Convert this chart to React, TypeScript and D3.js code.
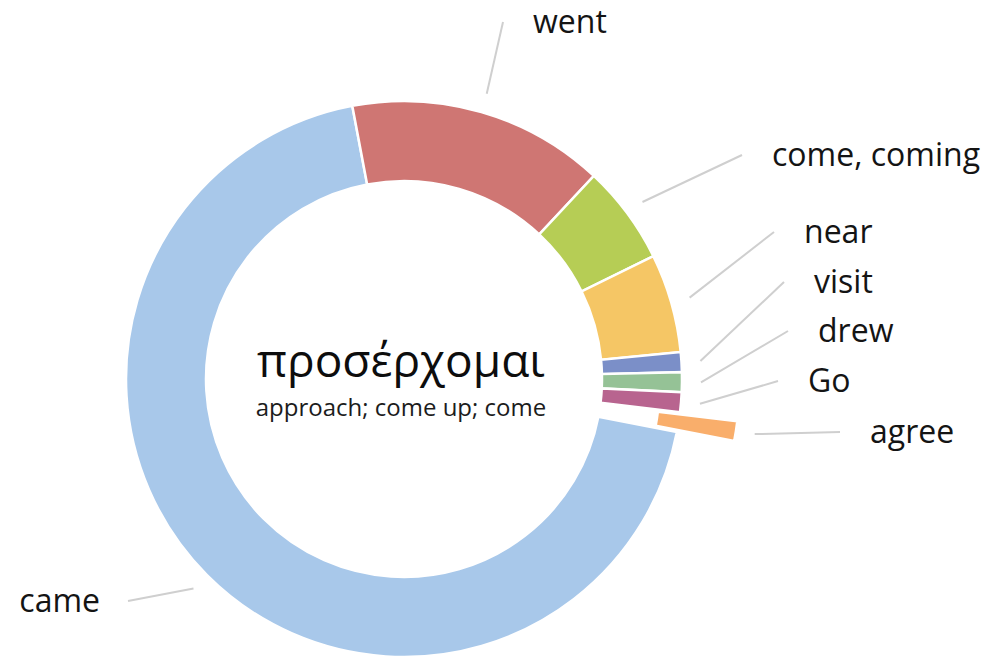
import React from 'react';
import * as d3 from 'd3';

// translations of προσέρχομαι and how often each occurs
const words = ['came', 'went', 'come, coming', 'near', 'visit', 'drew', 'Go', 'agree'];
const counts = [60, 13, 5, 5, 1, 1, 1, 1];
const colors = ['#a8c8ea', '#cf7673', '#b6cd55', '#f5c665', '#7b8fc8', '#95c296', '#b8648f', '#f9ae6b'];
const exploded = ['agree'];

const headword = 'προσέρχομαι';
const gloss = 'approach; come up; come';

// where each label text sits (label layout, not data)
const labelPos: Record<string, [number, number, string]> = {
  'came': [100, 612, 'end'],
  'went': [533, 33, 'start'],
  'come, coming': [772, 166, 'start'],
  'near': [804, 243, 'start'],
  'visit': [814, 293, 'start'],
  'drew': [818, 342, 'start'],
  'Go': [808, 392, 'start'],
  'agree': [870, 443, 'start'],
};

const W = 991;
const H = 656;
const cx = 404;
const cy = 379;
const R = 278;
const r = 198;
const explodeBy = 58;
const startDeg = 101;

export default function App() {
  const rad = (d: number) => (d * Math.PI) / 180;

  const pie = d3.pie<number>()
    .value(d => d)
    .sort(null)
    .startAngle(rad(startDeg))
    .endAngle(rad(startDeg) + 2 * Math.PI);

  const arcs = pie(counts);
  const arc = d3.arc<d3.PieArcDatum<number>>().innerRadius(r).outerRadius(R);

  const polar = (a: number, dist: number) => [Math.sin(a) * dist, -Math.cos(a) * dist];

  const font = "'Open Sans', 'Noto Sans', sans-serif";

  return (
    <div style={{ position: 'fixed', left: 0, top: 0 }}>
      <svg width={W} height={H} style={{ display: 'block', background: '#fff' }}>
        <g transform={`translate(${cx},${cy})`}>
          {arcs.map((a, i) => {
            const mid = (a.startAngle + a.endAngle) / 2;
            const off = exploded.includes(words[i]) ? explodeBy : 0;
            const [dx, dy] = polar(mid, off);
            return (
              <path
                key={words[i]}
                d={arc(a) || ''}
                transform={`translate(${dx},${dy})`}
                fill={colors[i]}
                stroke="#fff"
                strokeWidth={2.5}
              />
            );
          })}
        </g>

        {arcs.map((a, i) => {
          const mid = (a.startAngle + a.endAngle) / 2;
          const off = exploded.includes(words[i]) ? explodeBy : 0;
          const [sx, sy] = polar(mid, R + 19 + off);
          const [lx, ly, anchor] = labelPos[words[i]];
          const ex = anchor === 'end' ? lx + 28 : lx - 30;
          const ey = ly - 11;
          return (
            <g key={'lbl' + words[i]}>
              <line x1={cx + sx} y1={cy + sy} x2={ex} y2={ey} stroke="#cfcfcf" strokeWidth={2} />
              <text x={lx} y={ly} textAnchor={anchor} fontFamily={font} fontSize={32} fill="#141414">
                {words[i]}
              </text>
            </g>
          );
        })}

        <text x={401} y={377} textAnchor="middle" fontFamily={font} fontSize={46} fill="#0d0d0d">
          {headword}
        </text>
        <text x={401} y={416} textAnchor="middle" fontFamily={font} fontSize={24} fill="#1c1c1c">
          {gloss}
        </text>
      </svg>
    </div>
  );
}
